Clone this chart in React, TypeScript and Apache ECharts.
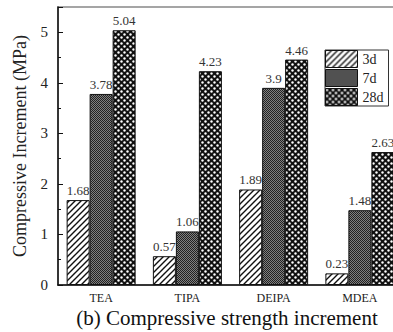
import React, { useEffect, useRef } from "react";
import * as echarts from "echarts";

const categories = ["TEA", "TIPA", "DEIPA", "MDEA"];
const seriesNames = ["3d", "7d", "28d"];
const values3d = [1.68, 0.57, 1.89, 0.23];
const values7d = [3.78, 1.06, 3.9, 1.48];
const values28d = [5.04, 4.23, 4.46, 2.63];
const yTicks = [0, 1, 2, 3, 4, 5];
const yAxisTitle = "Compressive Increment (MPa)";
const caption = "(b) Compressive strength increment";

const FONT = "Liberation Serif, Times New Roman, serif";

function makeCanvas(size: number, draw: (ctx: CanvasRenderingContext2D) => void) {
  const c = document.createElement("canvas");
  c.width = size;
  c.height = size;
  const ctx = c.getContext("2d")!;
  draw(ctx);
  return c;
}

function hatchPattern() {
  const s = 6;
  const c = makeCanvas(s, (ctx) => {
    ctx.fillStyle = "#ffffff";
    ctx.fillRect(0, 0, s, s);
    ctx.strokeStyle = "#111111";
    ctx.lineWidth = 1.4;
    ctx.beginPath();
    ctx.moveTo(-1, s + 1);
    ctx.lineTo(s + 1, -1);
    ctx.moveTo(-1, 1);
    ctx.lineTo(1, -1);
    ctx.moveTo(s - 1, s + 1);
    ctx.lineTo(s + 1, s - 1);
    ctx.stroke();
  });
  return { image: c, repeat: "repeat", imageWidth: s, imageHeight: s } as any;
}

function greyPattern() {
  const s = 2;
  const c = makeCanvas(s, (ctx) => {
    ctx.fillStyle = "#808080";
    ctx.fillRect(0, 0, s, s);
    ctx.fillStyle = "#222222";
    ctx.fillRect(0, 0, 1, 1);
    ctx.fillRect(1, 1, 1, 1);
  });
  return { image: c, repeat: "repeat", imageWidth: s, imageHeight: s } as any;
}

function dotPattern() {
  const s = 6;
  const c = makeCanvas(s, (ctx) => {
    ctx.fillStyle = "#111111";
    ctx.fillRect(0, 0, s, s);
    ctx.fillStyle = "#ffffff";
    const pts = [
      [1.5, 1.5],
      [4.5, 4.5],
    ];
    for (const [x, y] of pts) {
      ctx.beginPath();
      ctx.arc(x, y, 1.2, 0, Math.PI * 2);
      ctx.fill();
    }
  });
  return { image: c, repeat: "repeat", imageWidth: s, imageHeight: s } as any;
}

export default function App() {
  const ref = useRef<HTMLDivElement>(null);

  useEffect(() => {
    document.body.style.margin = "0";
    document.body.style.overflow = "hidden";
    document.documentElement.style.overflow = "hidden";
    if (!ref.current) return;
    const chart = echarts.init(ref.current, undefined, { renderer: "svg" });
    const fills = [hatchPattern(), greyPattern(), dotPattern()];
    const data = [values3d, values7d, values28d];

    const option: any = {
      animation: false,
      backgroundColor: "#ffffff",
      textStyle: { fontFamily: FONT },
      grid: {
        left: 58,
        top: 7,
        right: 0,
        bottom: 47,
        show: true,
        borderColor: "#888888",
        borderWidth: 1.5,
      },
      legend: {
        orient: "vertical",
        left: 325,
        top: 50,
        itemWidth: 32,
        itemHeight: 17,
        itemGap: 1,
        padding: [0, 5, 0, 0],
        borderColor: "#333333",
        borderWidth: 1,
        backgroundColor: "#ffffff",
        icon: "rect",
        textStyle: { fontFamily: FONT, fontSize: 14, color: "#222222" },
        itemStyle: { borderColor: "#111111", borderWidth: 1 },
        data: seriesNames,
      },
      xAxis: {
        type: "category",
        data: categories,
        axisLine: { lineStyle: { color: "#111111", width: 1.5 } },
        axisTick: { show: false },
        axisLabel: { fontFamily: FONT, fontSize: 12, color: "#222222", margin: 7 },
      },
      yAxis: {
        type: "value",
        min: 0,
        max: 5.5,
        interval: 1,
        name: yAxisTitle,
        nameLocation: "middle",
        nameGap: 29,
        nameTextStyle: { fontFamily: FONT, fontSize: 18, color: "#222222" },
        axisLine: { show: true, lineStyle: { color: "#111111", width: 1.5 } },
        axisTick: { show: true, inside: true, length: 5, lineStyle: { color: "#111111" } },
        minorTick: { show: true, splitNumber: 2, length: 3, lineStyle: { color: "#111111" } },
        splitLine: { show: false },
        axisLabel: {
          fontFamily: FONT,
          fontSize: 15,
          color: "#222222",
          margin: 10,
          showMaxLabel: false,
          formatter: (v: number) => (yTicks.includes(v) ? String(v) : ""),
        },
      },
      series: seriesNames.map((name, i) => ({
        name,
        type: "bar",
        data: data[i],
        barWidth: 23,
        barGap: "0%",
        itemStyle: { color: fills[i], borderColor: "#111111", borderWidth: 1 },
        label: {
          show: true,
          position: "top",
          distance: 3,
          fontFamily: FONT,
          fontSize: 13,
          color: "#333333",
          formatter: (p: any) => String(p.value),
        },
      })),
      graphic: [
        {
          type: "text",
          x: 227,
          y: 318,
          style: {
            text: caption,
            fontFamily: FONT,
            fontSize: 21,
            fill: "#111111",
            textAlign: "center",
            textVerticalAlign: "middle",
          },
        },
      ],
    };
    chart.setOption(option);
    return () => chart.dispose();
  }, []);

  return <div ref={ref} style={{ width: 403, height: 332 }} />;
}
